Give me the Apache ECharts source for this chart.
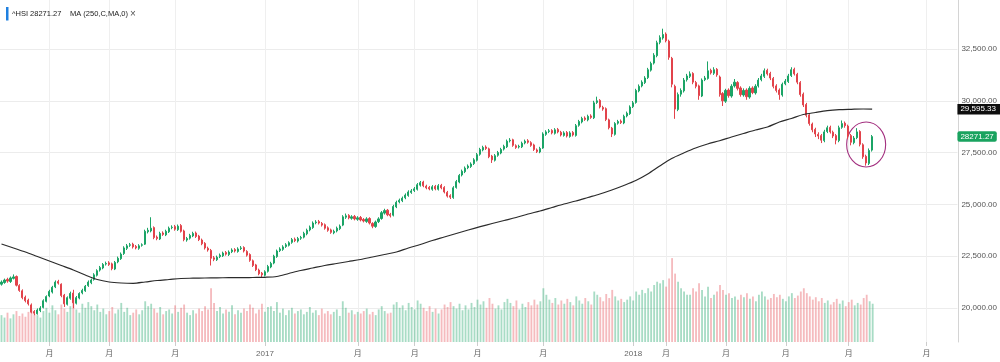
<!DOCTYPE html>
<html><head><meta charset="utf-8">
<script src="https://cdn.jsdelivr.net/npm/echarts@6/dist/echarts.min.js"></script>
<style>html,body{margin:0;padding:0;background:#fff}#c{width:1000px;height:362px}</style>
</head><body><div id="c"></div>
<script>
// ---- data (2-trading-day candles, HSI Apr 2016 – Aug 2018) ----
const opens = [
21150,21230,21380,21280,21430,21520,21080,20830,20520,20380,
20150,19830,19720,19880,20030,20320,20580,20770,21020,21280,
21150,20620,20180,20470,20720,20230,20480,20730,20830,21080,
21220,21380,21580,21830,21930,22120,22180,22130,21880,22230,
22380,22630,22880,23030,23080,22970,22880,23030,23080,23680,
23720,23880,23420,23330,23620,23530,23680,23880,23930,23780,
23980,23720,23280,23370,23480,23620,23470,23280,23120,22880,
22780,22420,22330,22480,22520,22680,22580,22720,22820,22730,
22870,22920,22730,22580,22280,22080,21830,21680,21580,21770,
21980,22170,22480,22770,22830,22970,23030,23170,23320,23230,
23370,23420,23580,23770,23880,24120,24170,24080,24020,23870,
23770,23630,23720,23830,24000,24380,24470,24330,24420,24280,
24370,24270,24180,24320,24080,23930,24170,24320,24580,24720,
24520,24480,24880,25120,25180,25320,25430,25580,25670,25730,
25930,26080,25880,25820,25730,25870,25730,25920,25820,25580,
25420,25330,25820,26080,26420,26580,26770,26830,26970,27130,
27420,27630,27770,27680,27330,27130,27370,27480,27670,27780,
28070,28120,27830,27770,27780,27970,28070,27980,27870,27630,
27530,27720,28380,28520,28570,28430,28620,28480,28330,28470,
28280,28470,28330,28820,28980,29170,29080,29270,29180,29920,
30020,29680,29620,29080,28680,28380,28920,29020,28930,29270,
29380,29720,29920,30480,30720,30880,31120,31480,31820,32180,
32820,33030,33220,32880,32050,30700,29580,30320,30480,31020,
31180,31320,30880,30720,30230,31020,31080,31470,31330,31520,
31150,30350,29980,30520,30230,30720,30880,30620,30280,30520,
30180,30620,30380,30720,31020,31180,31470,31320,31080,30720,
30520,30280,30820,30930,31220,31520,31280,30880,30320,29820,
29320,28880,28620,28380,28320,28080,28520,28720,28480,28320,
28080,28720,28920,28780,28320,27980,28220,28520,27880,27320,
26980,27620];
const closes = [
21250,21350,21300,21450,21500,21100,20850,20500,20350,20200,
19800,19750,19900,20000,20350,20550,20800,21000,21250,21200,
20600,20200,20500,20700,20250,20500,20700,20850,21050,21250,
21350,21600,21800,21950,22100,22150,22100,21900,22200,22400,
22600,22900,23000,23050,22950,22900,23000,23050,23700,23750,
23850,23400,23350,23600,23550,23700,23850,23900,23800,23950,
23700,23300,23350,23500,23600,23450,23300,23100,22900,22800,
22400,22350,22450,22550,22650,22600,22700,22800,22750,22850,
22900,22750,22550,22300,22050,21850,21650,21600,21750,22000,
22150,22500,22750,22850,22950,23050,23150,23300,23250,23350,
23400,23600,23750,23900,24100,24150,24100,24000,23850,23750,
23650,23700,23850,23950,24400,24450,24350,24400,24300,24350,
24250,24200,24300,24100,23950,24150,24300,24600,24700,24500,
24450,24900,25100,25200,25300,25450,25600,25650,25750,25950,
26050,25900,25800,25750,25850,25750,25900,25800,25600,25400,
25350,25800,26100,26400,26600,26750,26850,26950,27150,27400,
27650,27750,27700,27300,27150,27350,27500,27650,27800,28050,
28100,27850,27750,27800,27950,28050,28000,27850,27650,27550,
27700,28400,28500,28550,28450,28600,28500,28350,28450,28300,
28450,28350,28800,29000,29150,29100,29250,29200,29900,30000,
29700,29600,29100,28700,28400,28900,29000,28950,29250,29400,
29700,29900,30500,30700,30900,31100,31500,31800,32200,32800,
33050,33200,32900,32100,30800,29600,30300,30500,31000,31200,
31300,30900,30700,30250,31000,31100,31450,31350,31500,31250,
30300,30000,30500,30250,30700,30900,30600,30300,30500,30200,
30600,30400,30700,31000,31200,31450,31300,31100,30700,30500,
30300,30800,30950,31200,31500,31300,30900,30300,29800,29300,
28900,28600,28400,28300,28100,28500,28700,28500,28300,28100,
28700,28900,28800,28300,28000,28200,28500,27900,27300,27000,
27600,28271.27];
const highs = [
21330,21420,21460,21520,21620,21570,21150,20900,20600,20450,
20220,19900,19980,20090,20420,20610,20880,21070,21330,21360,
21190,20680,20560,20790,20880,20580,20760,20930,21110,21330,
21420,21680,21870,22030,22170,22240,22260,22190,22270,22480,
22680,22980,23090,23140,23150,23040,23080,23120,23780,23870,
24380,23940,23500,23680,23700,23780,23930,23990,24010,24030,
24050,23780,23430,23580,23680,23690,23530,23350,23180,22960,
22850,22510,22530,22630,22720,22750,22780,22880,22890,22930,
22990,22980,22790,22640,22340,22130,21900,21740,21820,22080,
22230,22570,22820,22930,23030,23130,23220,23380,23400,23430,
23480,23680,23830,23980,24180,24240,24250,24150,24080,23940,
23830,23780,23930,24030,24480,24560,24530,24480,24490,24430,
24440,24340,24380,24380,24140,24220,24380,24680,24790,24780,
24590,24980,25180,25280,25380,25530,25680,25740,25840,26030,
26130,26140,25950,25890,25930,25940,25980,25990,25880,25650,
25490,25880,26180,26470,26680,26830,26930,27030,27230,27480,
27730,27830,27850,27740,27390,27430,27580,27730,27880,28130,
28200,28170,27900,27880,28030,28130,28150,28050,27930,27700,
27780,28480,28580,28640,28630,28680,28690,28550,28530,28540,
28530,28540,28880,29080,29230,29250,29330,29350,30000,30200,
30080,29760,29680,29140,28740,28970,29080,29100,29330,29480,
29780,29990,30580,30790,30990,31190,31590,31890,32300,32900,
33160,33480,33300,32950,32120,30780,30400,30600,31100,31300,
31420,31380,30960,30780,31080,31200,31900,31550,31620,31580,
31220,30420,30580,30600,30800,31050,30950,30700,30600,30600,
30700,30700,30800,31100,31300,31560,31550,31400,31150,30800,
30600,30880,31050,31300,31620,31600,31350,30950,30400,29900,
29400,28950,28700,28480,28400,28600,28800,28800,28560,28400,
28800,29050,29000,28850,28400,28300,28680,28580,27950,27400,
27700,28350];
const lows = [
21080,21170,21220,21210,21380,21040,20780,20420,20270,20120,
19740,19650,19680,19800,19980,20270,20520,20700,20960,21130,
20520,20050,20120,20400,19990,20170,20420,20660,20780,21020,
21150,21320,21520,21760,21870,22050,22030,21820,21830,22160,
22320,22560,22800,22950,22870,22830,22810,22960,23040,23600,
23650,23320,23270,23280,23480,23470,23620,23800,23730,23720,
23640,23220,23200,23300,23420,23380,23230,23030,22820,22720,
22050,22260,22270,22410,22460,22530,22510,22650,22680,22670,
22800,22680,22480,22230,21980,21780,21580,21480,21520,21710,
21920,22110,22420,22700,22760,22900,22970,23100,23180,23160,
23290,23360,23510,23700,23820,24040,24030,23930,23780,23680,
23580,23560,23650,23760,23950,24300,24280,24260,24230,24210,
24180,24130,24110,24030,23850,23870,24100,24260,24510,24430,
24370,24420,24820,25050,25110,25250,25370,25510,25600,25670,
25860,25830,25730,25680,25660,25680,25670,25730,25530,25330,
25260,25270,25760,26020,26350,26510,26700,26760,26900,27070,
27350,27560,27630,27230,27000,27070,27300,27420,27600,27720,
27990,27780,27680,27700,27720,27900,27930,27780,27580,27480,
27470,27680,28310,28440,28380,28370,28430,28280,28270,28230,
28220,28280,28270,28750,28910,29030,29010,29130,29120,29850,
29630,29520,29020,28620,28250,28320,28850,28880,28870,29200,
29320,29650,29860,30410,30650,30810,31050,31410,31750,32100,
32730,32950,32820,31980,30650,29130,29500,30200,30400,30930,
31100,30800,30600,30050,30180,30950,31020,31270,31250,31160,
30200,29750,29900,30150,30150,30640,30500,30200,30200,30050,
30100,30320,30300,30640,30940,31100,31220,31000,30600,30400,
30050,30200,30750,30860,31150,31220,30800,30200,29700,29200,
28800,28480,28250,28150,27960,28000,28440,28420,28200,27900,
28000,28650,28700,28150,27850,27900,28150,27800,27200,26870,
26900,27550];
const volumes = [
1650,1500,1800,1450,1700,1900,1600,1750,1550,1850,
2000,1700,1650,1500,1900,2100,1800,2250,1950,1700,
2300,2050,1850,2200,2600,2000,1800,2350,2100,2450,
2200,1950,2300,1850,2050,1700,1900,2150,1750,2000,
2400,1850,2100,1650,1800,2000,1700,1950,2500,2200,
2350,2050,1800,2150,1700,1900,2000,1750,2250,1850,
2100,2300,1800,1650,1950,1750,2050,1900,2200,2000,
3300,2400,1900,2150,1750,2000,1850,2250,1700,1950,
1800,2050,1900,2300,2100,1750,2000,2350,1850,2150,
2200,1900,2450,1800,2050,1650,1950,2100,1750,1900,
2000,1700,1850,2150,1800,1950,1650,2050,1750,1900,
1700,1850,2000,1600,2500,2100,1800,1950,1700,1850,
1750,1900,2050,1700,1850,1650,2000,2200,1900,1750,
1800,2300,2450,2100,2250,1950,2400,2150,2000,2550,
2350,2100,1900,2200,1850,2050,1750,2000,2300,2150,
2450,2200,2050,2350,1950,2250,2000,2400,2150,2600,
2300,2500,2100,2700,2350,2050,2250,2000,2450,2650,
2400,2200,2550,2000,2350,2150,2450,2250,2600,2300,
2500,3300,2900,2600,2400,2700,2300,2550,2350,2650,
2450,2250,2800,2550,2350,2700,2500,2300,3100,2900,
2750,2500,2950,2700,3200,2800,2550,2650,2450,2600,
2800,2550,3100,2900,3200,3000,3300,3100,3500,3700,
3600,3800,3400,3900,5150,4200,3700,3300,3100,2900,
2900,3300,3100,3600,3200,2800,3400,2700,2900,3100,
3500,3200,2900,3000,2700,2800,2600,2900,2750,3000,
2650,2800,2500,2900,3100,2800,2600,2700,2950,2750,
2900,2650,2500,2800,3000,2700,2850,3100,3300,3000,
2800,2600,2750,2500,2700,2400,2550,2300,2450,2650,
2350,2550,2200,2450,2600,2250,2400,2300,2700,2900,
2500,2350];
// 250-day moving average, sampled every 4th candle (last = final candle)
const maValues = [
23089,22896,22703,22485,22268,22051,21834,21593,21375,21255,
21207,21192,21255,21327,21375,21424,21438,21448,21457,21462,
21462,21472,21482,21520,21665,21810,21930,22051,22148,22244,
22341,22461,22582,22703,22896,23065,23258,23426,23595,23764,
23924,24078,24223,24368,24536,24681,24850,25019,25164,25333,
25502,25695,25912,26153,26467,26853,27215,27480,27722,27915,
28074,28252,28421,28590,28735,28976,29145,29338,29435,29522,
29570,29589,29604,29595.33];
const slotCount = 320; // axis extends past the data to Oct 2018
const tickSlots = [16,36,58,88,119,138,159,181,211,222,242,262,283,309];
const tickLabels = ['月','月','月','2017','月','月','月','月','2018','月','月','月','月','月'];
const lastClose = 28271.27;
const lastMA = 29595.33;
const yTicks = {min:17500, interval:2500};

// ---- chart ----
const FONT = "'Liberation Sans','Noto Sans CJK SC',Arial,sans-serif";
const UP = '#1ba466', DOWN = '#e2434b';
const cats = Array.from({length: slotCount}, (_, i) => String(i));
const lastIdx = closes.length - 1;
const candleData = closes.map((c, i) => [opens[i], c, lows[i], highs[i]]);
const volData = volumes.map((v, i) => ({
  value: v,
  itemStyle: {color: closes[i] >= opens[i] ? 'rgba(27,164,102,0.38)' : 'rgba(226,67,75,0.36)'}
}));
const maData = maValues.map((v, k) => [k === maValues.length - 1 ? lastIdx : k * 4, v]);
const tickSet = new Set(tickSlots);
const isTick = (idx) => tickSet.has(idx);
const fmt2 = (v) => Number(v).toLocaleString('en-US', {minimumFractionDigits: 2, maximumFractionDigits: 2});

const chart = echarts.init(document.getElementById('c'), null, {renderer: 'canvas'});
const option = {
  animation: false,
  textStyle: {fontFamily: FONT},
  grid: [
    {left: 0, right: 42, top: 0, bottom: 2.2},
    {left: 0, right: 42, top: 0, bottom: 20}
  ],
  xAxis: [
    {type: 'category', gridIndex: 0, data: cats, show: false, boundaryGap: true},
    {type: 'category', gridIndex: 1, data: cats, boundaryGap: true,
     axisLine: {show: false},
     axisTick: {show: true, alignWithLabel: true, interval: isTick, length: 4, lineStyle: {color: '#cccccc'}},
     axisLabel: {interval: isTick, formatter: (v, i) => tickLabels[tickSlots.indexOf(i)] || '',
                 fontSize: 8, color: '#666', margin: 8, fontFamily: FONT},
     splitLine: {show: true, alignWithLabel: true, interval: isTick, lineStyle: {color: '#efefef', width: 1}}}
  ],
  yAxis: [
    {type: 'value', gridIndex: 0, position: 'right', min: yTicks.min, max: 34865, interval: yTicks.interval,
     axisLine: {show: false}, axisTick: {show: false},
     axisLabel: {showMinLabel: false, showMaxLabel: false, formatter: fmt2, fontSize: 8, color: '#555', margin: 4, fontFamily: FONT},
     splitLine: {show: true, showMinLine: false, showMaxLine: false, lineStyle: {color: '#ececec', width: 1}}},
    {type: 'value', gridIndex: 1, position: 'right', min: 0, max: 21000,
     axisLine: {show: true, lineStyle: {color: '#d4d4d4', width: 1}}, axisTick: {show: false},
     axisLabel: {show: false}, splitLine: {show: false}}
  ],
  series: [
    {type: 'bar', name: 'Volume', xAxisIndex: 1, yAxisIndex: 1, data: volData, barWidth: '62%', silent: true},
    {type: 'candlestick', name: '^HSI', xAxisIndex: 0, yAxisIndex: 0, data: candleData, barWidth: 1.6,
     itemStyle: {color: UP, color0: DOWN, borderColor: UP, borderColor0: DOWN, borderWidth: 1}},
    {type: 'line', name: 'MA (250,C,MA,0)', xAxisIndex: 0, yAxisIndex: 0, data: maData, showSymbol: false,
     smooth: 0.3, lineStyle: {color: '#2b2b2b', width: 1.2}, silent: true, z: 3,
     markLine: {silent: true, symbol: ['none', 'none'], animation: false,
       lineStyle: {color: 'rgba(0,0,0,0)', width: 1, type: 'solid'},
       data: [
         {yAxis: lastMA, label: {show: true, position: 'end', distance: 0, formatter: () => fmt2(lastMA),
           color: '#fff', backgroundColor: '#0e0e0e', padding: [1.5, 4, 1, 3], fontSize: 8, lineHeight: 8, fontFamily: FONT}},
         {yAxis: lastClose, label: {show: true, position: 'end', distance: 0, formatter: () => String(lastClose),
           color: '#fff', backgroundColor: '#19a35f', borderRadius: 2, padding: [1.5, 3, 1, 3], fontSize: 8, lineHeight: 8, fontFamily: FONT}}
       ]}}
  ]
};
chart.setOption(option);

const c = chart.convertToPixel({xAxisIndex: 0, yAxisIndex: 0}, [lastIdx - 2, 27890]);
chart.setOption({
  graphic: [
    {id: 'bar', type: 'rect', left: 6, top: 7, shape: {width: 2.5, height: 13.5}, style: {fill: '#1f80e0'}},
    {id: 't1', type: 'text', left: 12, top: 10, style: {text: '^HSI ' + lastClose, fontSize: 7.5, fill: '#1a1a1a', fontFamily: FONT}},
    {id: 't2', type: 'text', left: 70, top: 10, style: {text: 'MA (250,C,MA,0)', fontSize: 7.5, fill: '#1a1a1a', fontFamily: FONT}},
    {id: 't3', type: 'text', left: 130, top: 9, style: {text: '×', fontSize: 10, fill: '#555', fontFamily: FONT}},
    {id: 'circ', type: 'ellipse', shape: {cx: c[0], cy: c[1], rx: 19.5, ry: 22.5},
     style: {fill: 'none', stroke: '#a3307f', lineWidth: 1.1}, silent: true}
  ]
});
</script>
</body></html>
